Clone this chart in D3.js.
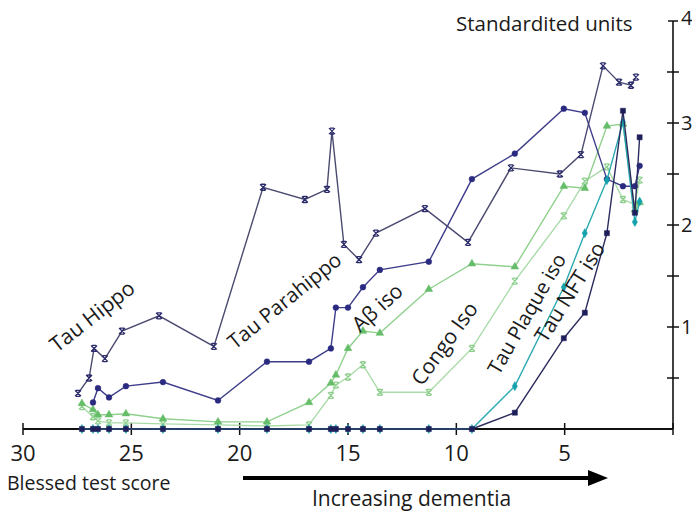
<!DOCTYPE html>
<html>
<head>
<meta charset="utf-8">
<script src="https://cdn.jsdelivr.net/npm/d3@7"></script>
<style>
  body { margin: 0; background: #fff; }
  text { font-family: "Open Sans", "Noto Sans", sans-serif; fill: #1a1a1a; }
</style>
</head>
<body>
<div class="chart"></div>
<script>
// Blessed test score of each case (x), Tau Hippo is drawn a little left of the others
const blessed = [27.28, 26.77, 26.54, 26.03, 25.25, 23.54, 21.0, 18.74, 16.8, 15.79, 15.56, 15.0, 14.31, 13.53, 11.27, 9.28, 7.3, 5.04, 4.07, 3.05, 2.31, 1.76, 1.54];
const blessedHippo = [27.46, 26.95, 26.72, 26.22, 25.43, 23.72, 21.19, 18.92, 16.99, 15.97, 15.74, 15.19, 14.49, 13.71, 11.45, 9.46, 7.48, 5.22, 4.25, 3.23, 2.49, 1.94, 1.71];

// standardized units
const tauHippo = [0.35, 0.50, 0.79, 0.69, 0.96, 1.11, 0.81, 2.37, 2.25, 2.35, 2.92, 1.81, 1.66, 1.92, 2.16, 1.83, 2.56, 2.50, 2.69, 3.56, 3.40, 3.37, 3.45];
const tauParahippo = [null, 0.26, 0.40, 0.31, 0.42, 0.46, 0.28, 0.66, 0.66, 0.79, 1.19, 1.19, 1.39, 1.56, 1.64, 2.45, 2.70, 3.14, 3.10, 2.45, 2.38, 2.38, 2.58];
const abIso = [0.25, 0.19, 0.14, 0.14, 0.15, 0.10, 0.07, 0.07, 0.26, 0.45, 0.53, 0.79, 0.96, 0.94, 1.37, 1.62, 1.59, 2.38, 2.36, 2.97, 2.99, 2.15, 2.22];
const congoIso = [0.22, 0.12, 0.08, 0.06, 0.06, 0.05, 0.04, 0.03, 0.04, 0.33, 0.43, 0.51, 0.63, 0.36, 0.36, 0.79, 1.45, 2.09, 2.43, 2.57, 2.25, 2.20, 2.44];
const tauPlaque = [0, 0, 0, 0, 0, 0, 0, 0, 0, 0, 0, 0, 0, 0, 0, 0, 0.42, 1.39, 1.92, 2.44, 3.01, 2.03, 2.23];
const tauNFT = [0, 0, 0, 0, 0, 0, 0, 0, 0, 0, 0, 0, 0, 0, 0, 0, 0.16, 0.89, 1.14, 1.92, 3.12, 2.12, 2.86];

const xTicks = [30, 25, 20, 15, 10, 5, 0];
const yTicks = [0.5, 1, 1.5, 2, 2.5, 3, 3.5];
const yLabels = [1, 2, 3, 4];

const WIDTH = 692, HEIGHT = 511;

const svg = d3.select(".chart").append("svg")
  .attr("width", WIDTH).attr("height", HEIGHT);

const x = d3.scaleLinear().domain([30, 0]).range([23, 673]);
const y = d3.scaleLinear().domain([0, 4]).range([429, 21]);

/* axes */
svg.append("line")
  .attr("x1", x(30)).attr("x2", x(0)).attr("y1", y(0)).attr("y2", y(0))
  .attr("stroke", "#111").attr("stroke-width", 2.2);
svg.selectAll(".xt").data(xTicks).enter().append("line")
  .attr("x1", d => x(d)).attr("x2", d => x(d))
  .attr("y1", y(0) - 6).attr("y2", y(0) + 6)
  .attr("stroke", "#111").attr("stroke-width", 1.5);
svg.selectAll(".xl").data(xTicks.filter(d => d > 0)).enter().append("text")
  .attr("x", d => x(d)).attr("y", 461)
  .attr("text-anchor", "middle").attr("font-size", 22)
  .text(d => d);

svg.append("line")
  .attr("x1", x(0)).attr("x2", x(0)).attr("y1", y(4)).attr("y2", y(0))
  .attr("stroke", "#111").attr("stroke-width", 1.6);
svg.append("line")
  .attr("x1", x(0) - 5).attr("x2", x(0) + 5).attr("y1", y(4)).attr("y2", y(4))
  .attr("stroke", "#111").attr("stroke-width", 1.5);
svg.selectAll(".yt").data(yTicks).enter().append("line")
  .attr("x1", x(0) - 6).attr("x2", x(0) + 6)
  .attr("y1", d => y(d)).attr("y2", d => y(d))
  .attr("stroke", "#111").attr("stroke-width", 1.5);
svg.selectAll(".yl").data(yLabels).enter().append("text")
  .attr("x", x(0) + 8).attr("y", d => y(d) + (d === 4 ? 4 : 7))
  .attr("font-size", 20)
  .text(d => d);

svg.append("text").attr("x", 456).attr("y", 31).attr("font-size", 20.5)
  .text("Standardited units");
svg.append("text").attr("x", 7).attr("y", 490).attr("font-size", 19.5)
  .text("Blessed test score");
svg.append("text").attr("x", 312).attr("y", 506).attr("font-size", 21)
  .text("Increasing dementia");

// arrow
svg.append("line").attr("x1", 243).attr("x2", 590).attr("y1", 478).attr("y2", 478)
  .attr("stroke", "#000").attr("stroke-width", 4);
svg.append("path").attr("d", "M588,470L608,478L588,486Z").attr("fill", "#000");

/* series */
const series = [
  { name: "Congo Iso", xs: blessed, ys: congoIso, line: "#a9dba9", mark: "#8fcf8f", shape: "x" },
  { name: "Aβ iso", xs: blessed, ys: abIso, line: "#8fd08c", mark: "#66bd69", shape: "tri" },
  { name: "Tau Hippo", xs: blessedHippo, ys: tauHippo, line: "#4b4b70", mark: "#2b2b6b", shape: "x" },
  { name: "Tau Parahippo", xs: blessed, ys: tauParahippo, line: "#3d3d8a", mark: "#2a2a80", shape: "circle" },
  { name: "Tau Plaque iso", xs: blessed, ys: tauPlaque, line: "#2aa9b0", mark: "#16a2ad", shape: "diamond" },
  { name: "Tau NFT iso", xs: blessed, ys: tauNFT, line: "#2a2a5e", mark: "#1e1e5a", shape: "square" }
];

const line = d3.line()
  .defined(d => d.v != null)
  .x(d => x(d.b)).y(d => y(d.v));

const symbolPath = {
  circle: d3.symbol(d3.symbolCircle, 26)(),
  square: d3.symbol(d3.symbolSquare, 26)(),
  diamond: d3.symbol(d3.symbolDiamond, 24)(),
  tri: d3.symbol(d3.symbolTriangle, 26)(),
  x: "M-3,-3L3,3M-3,3L3,-3M-2,-3L2,-3M-2,3L2,3"
};

series.forEach(s => {
  const pts = s.xs.map((b, i) => ({ b: b, v: s.ys[i] }));
  svg.append("path").datum(pts)
    .attr("d", line)
    .attr("fill", "none").attr("stroke", s.line).attr("stroke-width", 1.4);
  svg.append("g").selectAll("path")
    .data(pts.filter(d => d.v != null))
    .enter().append("path")
    .attr("transform", d => "translate(" + x(d.b) + "," + y(d.v) + ")")
    .attr("d", symbolPath[s.shape])
    .attr("fill", s.shape === "x" ? "none" : s.mark)
    .attr("stroke", s.mark)
    .attr("stroke-width", s.shape === "x" ? 1.3 : 0.5);
});

/* rotated series labels */
const labels = [
  { t: "Tau Hippo", x: 57, y: 353, a: -38, s: 21 },
  { t: "Tau Parahippo", x: 235, y: 350, a: -39, s: 20.5 },
  { t: "Aβ iso", x: 360, y: 333, a: -42, s: 21 },
  { t: "Congo Iso", x: 422, y: 387, a: -54, s: 21 },
  { t: "Tau Plaque iso", x: 499, y: 376, a: -60, s: 20 },
  { t: "Tau NFT iso", x: 546, y: 344, a: -58, s: 21 }
];
svg.selectAll(".lab").data(labels).enter().append("text")
  .attr("transform", d => "translate(" + d.x + "," + d.y + ") rotate(" + d.a + ")")
  .attr("font-size", d => d.s)
  .text(d => d.t);
</script>
</body>
</html>
